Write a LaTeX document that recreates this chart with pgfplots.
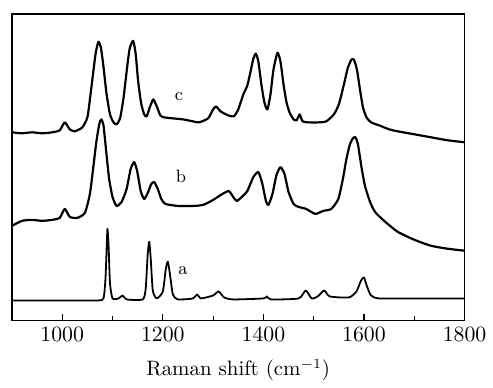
\documentclass[border=0pt]{standalone}
\usepackage{pgfplots}
\pgfplotsset{compat=1.18}
\begin{document}
\begin{tikzpicture}
\begin{axis}[
  scale only axis, width=227.5pt, height=154pt,
  xmin=900, xmax=1800, ymin=0, ymax=308,
  xtick={1000,1200,1400,1600,1800},
  minor xtick={1100,1300,1500,1700},
  ytick=\empty, xtick pos=bottom, tick align=inside,
  major tick length=3pt, minor tick length=2pt,
  axis line style={line width=0.8pt},
  every tick/.style={black, line width=0.6pt},
  /pgf/number format/set thousands separator={},
  tick label style={font=\fontsize{10.5}{12}\selectfont},
  xlabel={Raman shift (cm$^{-1}$)},
  label style={font=\fontsize{10.5}{12}\selectfont},
  xlabel style={yshift=-2pt},
  trace/.style={black, line width=1.1pt, line join=round, smooth, tension=0.35, mark=none},
]
% curve c
\addplot[trace] coordinates {
(900,189)(920,188)(940,189)(960,188)(980,189)(995,191)(1005,199)(1015,192)(1025,190)
(1040,194)(1050,204)(1056,226)(1063,255)(1067,270)(1072,280)(1077,274)(1082,255)
(1088,228)(1095,207)(1102,199)(1108,197)(1115,203)(1122,224)(1128,250)(1134,273)
(1141,281)(1146,268)(1151,240)(1157,218)(1163,207)(1168,205)(1174,214)(1181,222)
(1188,215)(1195,206)(1203,204)(1220,203)(1240,202)(1260,200)(1272,199)(1290,203)
(1300,212)(1306,215)(1315,210)(1330,206)(1341,205)(1350,212)(1360,227)(1368,236)
(1374,249)(1380,263)(1385,268)(1390,260)(1396,237)(1402,219)(1408,212)(1414,227)
(1420,252)(1428,269)(1434,260)(1440,237)(1446,219)(1452,209)(1460,202)(1466,201)
(1472,207)(1478,200)(1490,199)(1510,199)(1525,200)(1540,207)(1550,217)(1560,237)
(1568,254)(1575,262)(1580,262)(1586,252)(1592,232)(1598,214)(1605,204)(1614,199)
(1630,196)(1650,192)(1667,190)(1700,187)(1733,184)(1766,181)(1800,179)
};
% curve b
\addplot[trace] coordinates {
(900,95)(920,100)(940,101)(960,100)(980,101)(995,103)(1005,112)(1015,104)(1030,103)
(1045,108)(1055,127)(1062,155)(1068,180)(1074,198)(1078,202)(1082,196)(1087,172)
(1093,143)(1100,124)(1108,115)(1118,119)(1128,132)(1136,152)(1143,159)(1149,150)
(1156,130)(1163,122)(1170,128)(1177,137)(1183,139)(1190,132)(1197,122)(1205,117)
(1230,115)(1260,115)(1280,116)(1300,121)(1315,126)(1331,130)(1340,124)(1347,120)
(1357,124)(1368,130)(1380,144)(1390,149)(1398,137)(1405,120)(1410,116)(1418,127)
(1426,146)(1434,154)(1442,147)(1450,129)(1460,117)(1470,114)(1485,112)(1503,107)
(1519,110)(1535,112)(1549,122)(1558,142)(1565,162)(1572,177)(1578,183)(1583,184)
(1588,177)(1595,154)(1602,135)(1612,119)(1622,109)(1640,100)(1667,89)(1700,81)
(1733,75)(1766,72)(1800,70)
};
% curve a
\addplot[trace, line width=0.9pt] coordinates {
(900,20)(1000,20)(1070,20)(1082,22)(1086,42)(1089,82)(1090,92)(1092,77)(1095,37)
(1100,22)(1112,22)(1120,25)(1128,21)(1160,21)(1166,32)(1170,67)(1173,79)(1176,62)
(1180,30)(1188,22)(1200,29)(1206,52)(1210,59)(1214,47)(1220,26)(1230,21)(1260,22)
(1268,26)(1276,22)(1300,25)(1311,29)(1322,23)(1340,21)(1400,22)(1407,24)(1415,21)
(1470,22)(1484,30)(1496,22)(1508,24)(1521,30)(1532,24)(1570,23)(1585,29)(1594,40)
(1600,43)(1606,34)(1614,25)(1630,22)(1700,22)(1800,22)
};
\node[font=\fontsize{9}{10}\selectfont] at (axis cs:1232,225) {c};
\node[font=\fontsize{9}{10}\selectfont] at (axis cs:1236,145) {b};
\node[font=\fontsize{9}{10}\selectfont] at (axis cs:1240,50) {a};
\end{axis}
\path ([xshift=-6pt,yshift=7pt]current axis.north west) rectangle ([xshift=13pt,yshift=-27pt]current axis.south east);
\end{tikzpicture}
\end{document}
